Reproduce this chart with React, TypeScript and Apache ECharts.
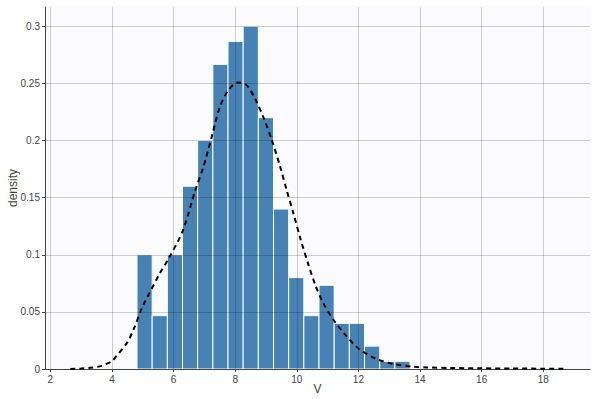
import React, { useEffect, useRef } from "react";
import * as echarts from "echarts";

// Histogram bins (left/right edges) and densities
const binLeft = [4.814, 5.306, 5.799, 6.291, 6.783, 7.276, 7.768, 8.26, 8.752, 9.245, 9.737, 10.229, 10.722, 11.214, 11.706, 12.199, 12.691, 13.183];
const binRight = [5.306, 5.799, 6.291, 6.783, 7.276, 7.768, 8.26, 8.752, 9.245, 9.737, 10.229, 10.722, 11.214, 11.706, 12.199, 12.691, 13.183, 13.675];
const binDensity = [0.1, 0.0467, 0.1, 0.16, 0.2, 0.2667, 0.2867, 0.3, 0.22, 0.14, 0.08, 0.0467, 0.0733, 0.04, 0.04, 0.02, 0.0067, 0.0067];

// Fitted density curve (x, density)
const curveX = [2.65, 3.0, 3.3, 3.6, 4.0, 4.15, 4.5, 4.7, 5.0, 5.25, 5.55, 5.85, 6.3, 6.7, 6.97, 7.24, 7.5, 7.78, 8.1, 8.37, 8.64, 8.91, 9.19, 9.46, 9.67, 9.89, 10.13, 10.38, 10.6, 10.86, 11.19, 11.62, 12.05, 12.59, 13.13, 13.78, 14.22, 15.0, 16.0, 17.0, 18.0, 18.7];
const curveY = [0.0, 0.0004, 0.001, 0.0023, 0.0068, 0.0115, 0.0233, 0.0345, 0.055, 0.068, 0.0835, 0.097, 0.121, 0.156, 0.177, 0.2033, 0.229, 0.2441, 0.2509, 0.2485, 0.2369, 0.2208, 0.2004, 0.1771, 0.1567, 0.1363, 0.113, 0.0912, 0.0737, 0.0577, 0.0431, 0.0285, 0.0169, 0.0087, 0.0044, 0.002, 0.0014, 0.0009, 0.0006, 0.0004, 0.0003, 0.0002];

const xMin = 1.828;
const xMax = 19.517;
const yMax = 0.3169;

const FONT = "'Liberation Sans', Arial, sans-serif";
const TXT = "#444";

export default function App() {
  const ref = useRef<HTMLDivElement>(null);
  useEffect(() => {
    const chart = echarts.init(ref.current!, null, { renderer: "svg" });
    const bars = binLeft.map((l, i) => [l, binRight[i], binDensity[i]]);
    const curve = curveX.map((x, i) => [x, curveY[i]]);
    chart.setOption({
      animation: false,
      backgroundColor: "#ffffff",
      textStyle: { fontFamily: FONT },
      grid: {
        left: 45, right: 3, top: 7, bottom: 30,
        outerBoundsMode: "none",
        containLabel: false,
        show: true, backgroundColor: "#fbfbfd", borderWidth: 0,
      },
      xAxis: {
        type: "value",
        min: xMin, max: xMax,
        splitNumber: 9,
        z: 5,
        name: "V",
        nameLocation: "middle",
        nameGap: 14,
        nameMoveOverlap: false,
        nameTextStyle: { color: TXT, fontSize: 12, fontFamily: FONT },
        axisLine: { show: true, onZero: false, lineStyle: { color: TXT, width: 1 } },
        axisTick: { show: true, length: 3, lineStyle: { color: TXT } },
        axisLabel: { color: TXT, fontSize: 10, margin: 5, showMinLabel: false, showMaxLabel: false, fontFamily: FONT },
        splitLine: { show: true, showMinLine: false, showMaxLine: false, lineStyle: { color: "rgba(0,0,0,0.18)", width: 1 } },
      },
      yAxis: {
        type: "value",
        min: 0, max: yMax,
        interval: 0.05,
        z: 5,
        name: "density",
        nameLocation: "middle",
        nameGap: 26,
        nameMoveOverlap: false,
        nameRotate: 90,
        nameTextStyle: { color: TXT, fontSize: 12, fontFamily: FONT },
        axisLine: { show: true, lineStyle: { color: TXT, width: 1 } },
        axisTick: { show: true, length: 3, lineStyle: { color: TXT } },
        axisLabel: { color: TXT, fontSize: 10, margin: 5, showMaxLabel: false, fontFamily: FONT },
        splitLine: { show: true, showMinLine: false, showMaxLine: false, lineStyle: { color: "rgba(0,0,0,0.18)", width: 1 } },
      },
      series: [
        {
          type: "custom",
          z: 2,
          data: bars,
          encode: { x: [0, 1], y: 2 },
          renderItem: (params: any, api: any) => {
            const p0 = api.coord([api.value(0), api.value(2)]);
            const p1 = api.coord([api.value(1), 0]);
            return {
              type: "rect",
              shape: { x: p0[0], y: p0[1], width: p1[0] - p0[0], height: p1[1] - p0[1] },
              style: { fill: "#4682B4", stroke: "#ffffff", lineWidth: 1 },
            };
          },
        },
        {
          type: "line",
          z: 10,
          data: curve,
          smooth: 0.3,
          symbol: "none",
          lineStyle: { color: "#000", width: 2, type: [5, 4] },
        },
      ],
    });
    return () => chart.dispose();
  }, []);
  return <div ref={ref} style={{ position: "absolute", left: 0, top: 0, width: 593, height: 399 }} />;
}
